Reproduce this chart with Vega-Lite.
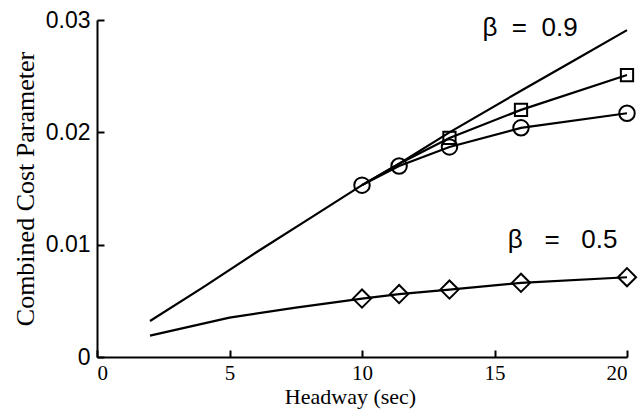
{
  "$schema": "https://vega.github.io/schema/vega-lite/v6.json",
  "width": 530,
  "height": 337,
  "autosize": {"type": "none"},
  "padding": {"left": 97, "top": 20, "right": 13, "bottom": 53},
  "background": "white",
  "config": {
    "view": {"stroke": null},
    "axis": {
      "grid": false,
      "domainColor": "black",
      "domainWidth": 2,
      "tickColor": "black",
      "tickWidth": 2,
      "tickSize": -7,
      "labelColor": "black",
      "titleColor": "black"
    }
  },
  "datasets": {
    "curves": [
      {"series": "b09", "h": 2, "c": 0.0032, "pt": false},
      {"series": "b09", "h": 4, "c": 0.0062, "pt": false},
      {"series": "b09", "h": 6, "c": 0.0093, "pt": false},
      {"series": "b09", "h": 8, "c": 0.0123, "pt": false},
      {"series": "b09", "h": 10, "c": 0.0153, "pt": false},
      {"series": "b09", "h": 11.4, "c": 0.0172, "pt": false},
      {"series": "b09", "h": 13.3, "c": 0.0200, "pt": false},
      {"series": "b09", "h": 16, "c": 0.0237, "pt": false},
      {"series": "b09", "h": 18, "c": 0.0264, "pt": false},
      {"series": "b09", "h": 20, "c": 0.0291, "pt": false},
      {"series": "square", "h": 10, "c": 0.0153, "pt": false},
      {"series": "square", "h": 11.4, "c": 0.0172, "pt": false},
      {"series": "square", "h": 13.3, "c": 0.0195, "pt": true},
      {"series": "square", "h": 16, "c": 0.0220, "pt": true},
      {"series": "square", "h": 20, "c": 0.0251, "pt": true},
      {"series": "circle", "h": 10, "c": 0.0153, "pt": true},
      {"series": "circle", "h": 11.4, "c": 0.0170, "pt": true},
      {"series": "circle", "h": 13.3, "c": 0.0187, "pt": true},
      {"series": "circle", "h": 16, "c": 0.0204, "pt": true},
      {"series": "circle", "h": 20, "c": 0.0217, "pt": true},
      {"series": "diamond", "h": 2, "c": 0.0019, "pt": false},
      {"series": "diamond", "h": 3.5, "c": 0.0027, "pt": false},
      {"series": "diamond", "h": 5, "c": 0.0035, "pt": false},
      {"series": "diamond", "h": 7.5, "c": 0.0044, "pt": false},
      {"series": "diamond", "h": 10, "c": 0.0052, "pt": true},
      {"series": "diamond", "h": 11.4, "c": 0.0056, "pt": true},
      {"series": "diamond", "h": 13.3, "c": 0.0060, "pt": true},
      {"series": "diamond", "h": 16, "c": 0.0066, "pt": true},
      {"series": "diamond", "h": 20, "c": 0.0071, "pt": true}
    ],
    "labels": [
      {"h": 16.34, "c": 0.0286, "text": "β\u00a0\u00a0=\u00a0\u00a00.9"},
      {"h": 17.57, "c": 0.0097, "text": "β\u00a0\u00a0\u00a0=\u00a0\u00a0\u00a00.5"}
    ]
  },
  "encoding": {
    "x": {
      "field": "h", "type": "quantitative",
      "scale": {"domain": [0, 20], "nice": false, "zero": false},
      "axis": {
        "title": "Headway (sec)",
        "values": [0, 5, 10, 15, 20],
        "format": "d",
        "labelFont": "Liberation Serif, Times New Roman, serif",
        "labelFontSize": 21,
        "labelPadding": 12,
        "titleFont": "Liberation Serif",
        "titleFontSize": 22,
        "titleFontWeight": "normal",
        "titleBaseline": "alphabetic",
        "titleX": 253,
        "titleY": 46
      }
    },
    "y": {
      "field": "c", "type": "quantitative",
      "scale": {"domain": [0, 0.03], "nice": false},
      "axis": {
        "title": "Combined Cost Parameter",
        "values": [0, 0.01, 0.02, 0.03],
        "labelExpr": "datum.value === 0 ? '0' : format(datum.value, '.2f')",
        "labelFont": "Liberation Sans",
        "labelFontSize": 23,
        "labelPadding": 14,
        "titleFont": "Liberation Serif",
        "titleFontSize": 26,
        "titleFontWeight": "normal",
        "titleBaseline": "middle",
        "titleX": -72
      }
    }
  },
  "layer": [
    {
      "data": {"name": "curves"},
      "mark": {"type": "line", "color": "black", "strokeWidth": 2.2},
      "encoding": {"detail": {"field": "series"}}
    },
    {
      "data": {"name": "curves"},
      "transform": [{"filter": "datum.pt"}],
      "mark": {"type": "point", "filled": false, "fill": "white", "fillOpacity": 0, "stroke": "black", "strokeWidth": 2, "opacity": 1},
      "encoding": {
        "shape": {
          "field": "series", "type": "nominal",
          "scale": {"domain": ["square", "circle", "diamond"], "range": ["square", "circle", "diamond"]},
          "legend": null
        },
        "size": {
          "field": "series", "type": "nominal",
          "scale": {"domain": ["square", "circle", "diamond"], "range": [150, 330, 300]},
          "legend": null
        }
      }
    },
    {
      "data": {"name": "labels"},
      "mark": {"type": "text", "font": "Liberation Sans", "fontSize": 26, "color": "black", "align": "center", "baseline": "alphabetic"},
      "encoding": {"text": {"field": "text"}}
    }
  ]
}
